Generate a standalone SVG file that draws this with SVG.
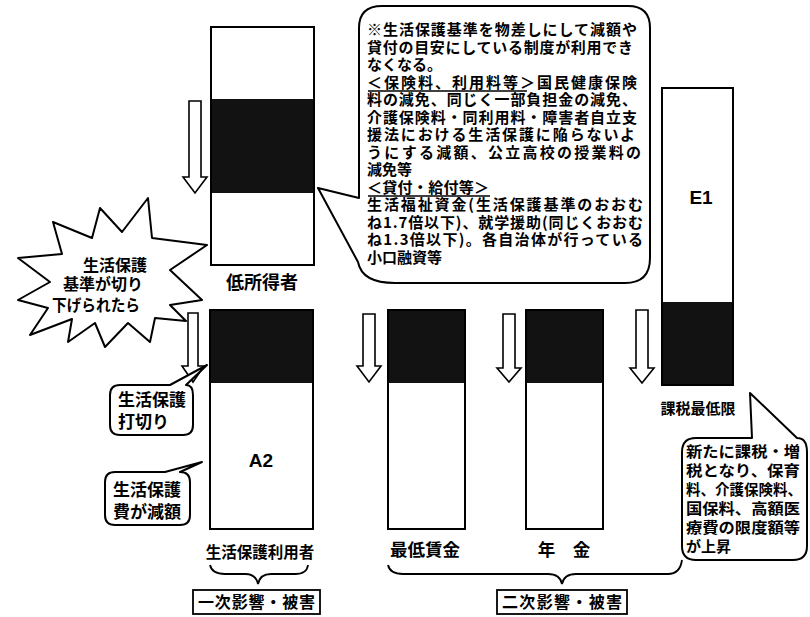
<svg xmlns="http://www.w3.org/2000/svg" width="810" height="617" viewBox="0 0 810 617">
<style>
.bar{fill:none;stroke:#000;stroke-width:2}
.dark{fill:#121212}
.arrow{fill:#fff;stroke:#000;stroke-width:1.6}
.co{fill:#fff;stroke:#000;stroke-width:2;stroke-linejoin:round}
.brace{fill:none;stroke:#000;stroke-width:1.8}
.t{font-family:"Noto Sans CJK JP","Noto Sans CJK SC",sans-serif;fill:#000}
.b{font-weight:bold}
.lat{font-family:"Liberation Sans",Arial,sans-serif;font-weight:bold;fill:#000}
.ul{stroke:#000;stroke-width:1.3}
</style>
<rect width="810" height="617" fill="#fff"/>

<g id="callout-top">
<path class="co" d="M382,6 H628 Q650,6 650,28 V258 Q650,283 625,283 H395 Q362,283 358,262 L318,188 L359,198 V28 Q359,6 382,6 Z"/>
<g class="t b" font-size="15">
<text x="367" y="35" textLength="270" lengthAdjust="spacing">※生活保護基準を物差しにして減額や</text>
<text x="367" y="52.5" textLength="266" lengthAdjust="spacing">貸付の目安にしている制度が利用でき</text>
<text x="367" y="70">なくなる。</text>
<text x="367" y="87.5" textLength="270" lengthAdjust="spacing">＜保険料、利用料等＞国民健康保険</text>
<text x="367" y="105" textLength="270" lengthAdjust="spacing">料の減免、同じく一部負担金の減免、</text>
<text x="367" y="122.5" textLength="270" lengthAdjust="spacing">介護保険料・同利用料・障害者自立支</text>
<text x="367" y="140" textLength="268" lengthAdjust="spacing">援法における生活保護に陥らないよ</text>
<text x="367" y="157.5" textLength="274" lengthAdjust="spacing">うにする減額、公立高校の授業料の</text>
<text x="367" y="175">減免等</text>
<text x="367" y="192.5" textLength="122" lengthAdjust="spacing">＜貸付・給付等＞</text>
<text x="367" y="210" textLength="276" lengthAdjust="spacing">生活福祉資金(生活保護基準のおおむ</text>
<text x="367" y="227.5" textLength="276" lengthAdjust="spacing">ね1.7倍以下)、就学援助(同じくおおむ</text>
<text x="367" y="245" textLength="276" lengthAdjust="spacing">ね1.3倍以下)。各自治体が行っている</text>
<text x="367" y="262.5">小口融資等</text>
</g>
<line class="ul" x1="368" y1="91" x2="527" y2="91"/>
<line class="ul" x1="368" y1="196" x2="490" y2="196"/>
</g>

<g id="bar-low-income">
<rect class="dark" x="211" y="99" width="103" height="94"/>
<rect class="bar" x="211" y="27" width="103" height="238"/>
<text class="t b" x="262" y="289" font-size="18" text-anchor="middle">低所得者</text>
</g>

<g id="starburst">
<path class="co" d="M148,198 L152,238 L207,245 L170,270 L202,300 L170,305 L186,321 L155,318 L150,342 L128,323 L105,347 L95,323 L68,342 L72,319 L30,335 L48,308 L18,300 L50,282 L18,258 L62,254 L53,222 L92,238 L100,208 L122,232 Z"/>
<g class="t b" font-size="16">
<text x="83" y="271">生活保護</text>
<text x="63" y="290">基準が切り</text>
<text x="52" y="311" textLength="88" lengthAdjust="spacingAndGlyphs">下げられたら</text>
</g>
</g>

<g id="bar-welfare">
<rect class="dark" x="210" y="310" width="103" height="73"/>
<rect class="bar" x="210" y="310" width="103" height="219"/>
<text class="lat" x="261" y="467" font-size="19" text-anchor="middle">A2</text>
<text class="t b" x="260" y="558" font-size="15.5" text-anchor="middle">生活保護利用者</text>
</g>

<g id="bar-min-wage">
<rect class="dark" x="388" y="310" width="77" height="73"/>
<rect class="bar" x="388" y="310" width="77" height="219"/>
<text class="t b" x="425" y="556" font-size="17.5" text-anchor="middle">最低賃金</text>
</g>

<g id="bar-pension">
<rect class="dark" x="526" y="310" width="77" height="73"/>
<rect class="bar" x="526" y="310" width="77" height="219"/>
<text class="t b" x="564" y="556" font-size="17.5" text-anchor="middle">年　金</text>
</g>

<g id="bar-tax">
<rect class="dark" x="662" y="302" width="71" height="83"/>
<rect class="bar" x="662" y="88" width="71" height="297"/>
<text class="lat" x="701" y="204" font-size="19" text-anchor="middle">E1</text>
<text class="t b" x="698" y="414" font-size="15" text-anchor="middle">課税最低限</text>
</g>

<g id="connectors">
<path class="arrow" d="M189,101 H201 V177 H207 L195,193 L183,177 H189 Z"/>
<path class="arrow" d="M188,313 H198 V366 H204 L193,382 L182,366 H188 Z"/>
<path class="arrow" d="M363,314 H375 V366 H381 L369,382 L357,366 H363 Z"/>
<path class="arrow" d="M503,314 H515 V368 H521 L509,382 L497,368 H503 Z"/>
<path class="arrow" d="M636,310 H648 V368 H654 L642,383 L630,368 H636 Z"/>
<path class="brace" d="M210,565 Q212,574 225,574 H245 Q256,574 258,584 Q260,574 271,574 H295 Q307,574 308,565"/>
<path class="brace" d="M388,565 Q390,574 403,574 H548 Q560,574 562,584 Q564,574 576,574 H668 Q680,574 682,560"/>
</g>

<g id="callout-cutoff">
<path class="co" d="M120,385 H170 L207,365 L186,385 Q193,385 193,395 V425 Q193,435 183,435 H120 Q110,435 110,425 V395 Q110,385 120,385 Z"/>
<g class="t b" font-size="17">
<text x="118" y="406">生活保護</text>
<text x="118" y="428">打切り</text>
</g>
</g>

<g id="callout-reduce">
<path class="co" d="M115,472 H165 L202,462 L180,472 Q190,472 190,482 V515 Q190,525 180,525 H115 Q105,525 105,515 V482 Q105,472 115,472 Z"/>
<g class="t b" font-size="17">
<text x="113" y="496">生活保護</text>
<text x="113" y="518">費が減額</text>
</g>
</g>

<g id="callout-tax">
<path class="co" d="M696,438 H752 L750,393 L797,438 Q807,438 807,452 V546 Q807,560 793,560 H696 Q682,560 682,546 V452 Q682,438 696,438 Z"/>
<g class="t b" font-size="15">
<text x="686" y="457" textLength="114" lengthAdjust="spacingAndGlyphs">新たに課税・増</text>
<text x="686" y="476" textLength="114" lengthAdjust="spacingAndGlyphs">税となり、保育</text>
<text x="686" y="495" textLength="116" lengthAdjust="spacingAndGlyphs">料、介護保険料、</text>
<text x="686" y="514" textLength="114" lengthAdjust="spacingAndGlyphs">国保料、高額医</text>
<text x="686" y="533" textLength="114" lengthAdjust="spacingAndGlyphs">療費の限度額等</text>
<text x="686" y="552">が上昇</text>
</g>
</g>

<g id="label-primary">
<rect x="193" y="590" width="127" height="24" fill="#fff" stroke="#000" stroke-width="1.8"/>
<text class="t b" x="198" y="608" font-size="16" textLength="117" lengthAdjust="spacing">一次影響・被害</text>
</g>

<g id="label-secondary">
<rect x="497" y="590" width="130" height="24" fill="#fff" stroke="#000" stroke-width="1.8"/>
<text class="t b" x="502" y="608" font-size="16" textLength="120" lengthAdjust="spacing">二次影響・被害</text>
</g>
</svg>
